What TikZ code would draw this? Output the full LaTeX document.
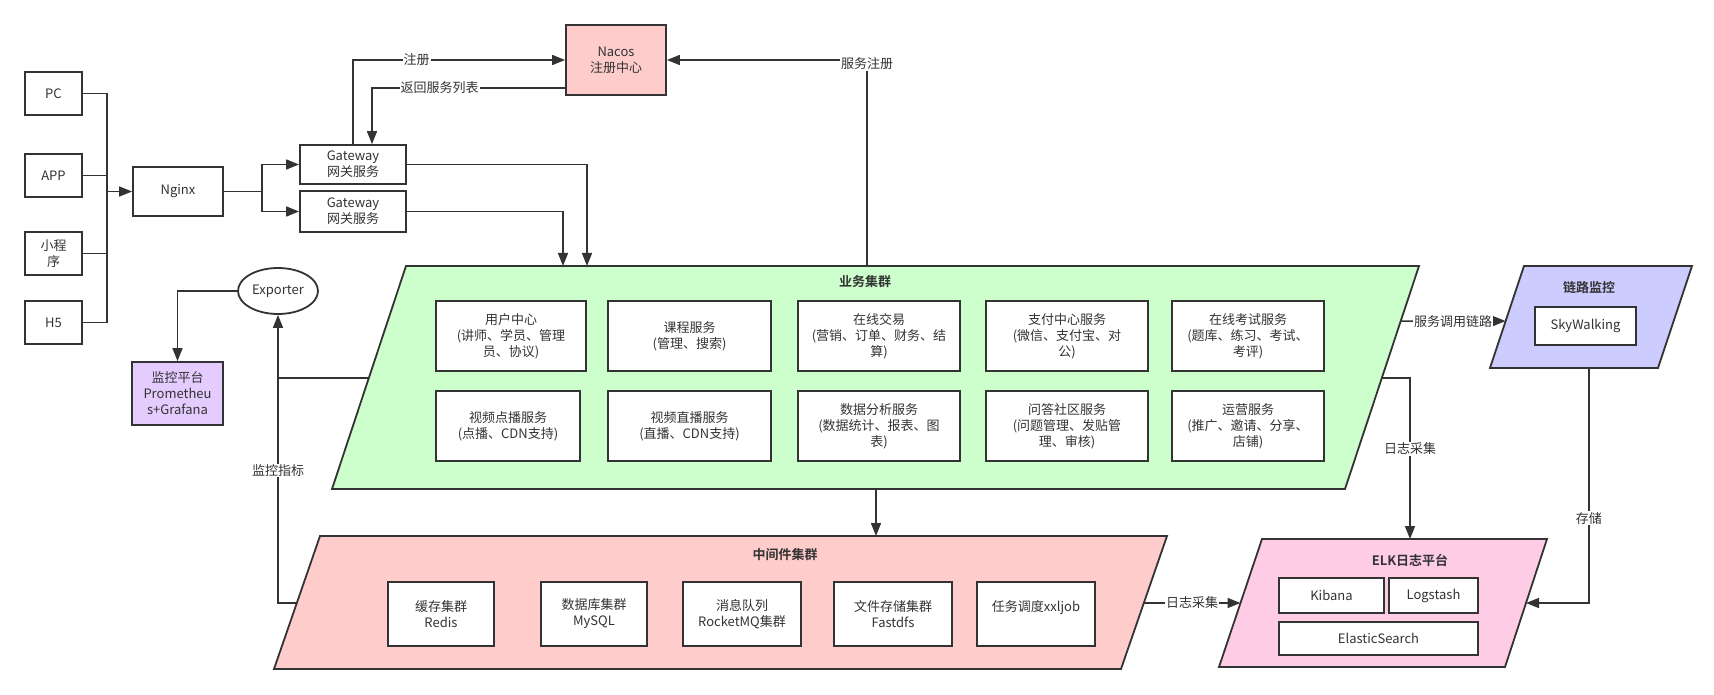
\documentclass[tikz,border=0pt]{standalone}
\usepackage{fontspec}
\setmainfont{Noto Sans CJK SC}[BoldFont={Noto Sans CJK SC Bold}]
\usetikzlibrary{arrows.meta,shapes.geometric,calc}
\definecolor{ln}{HTML}{333333}
\definecolor{bizgreen}{HTML}{CCFFCC}
\definecolor{midpink}{HTML}{FFCCCC}
\definecolor{monpurple}{HTML}{E5CCFF}
\definecolor{trblue}{HTML}{CCCCFF}
\definecolor{elkpink}{HTML}{FFCCE6}
\begin{document}
\begin{tikzpicture}[x=1pt,y=-1pt,
  font=\fontsize{13}{16}\selectfont, text=ln,
  box/.style={draw=ln, line width=1.8pt, fill=white, inner sep=0pt, align=center},
  shapeline/.style={draw=ln, line width=1.8pt},
  conn/.style={draw=ln, line width=1.6pt},
  arr/.style={conn, -{Triangle[length=13pt,width=10pt]}},
  lbl/.style={fill=white, inner sep=1pt},
  ttl/.style={font=\fontsize{13}{16}\selectfont\bfseries}]
\useasboundingbox (0,0) rectangle (1714,695);

% ---------- clusters (parallelograms) ----------
\coordinate (bTL) at (406,266); \coordinate (bTR) at (1419,266);
\coordinate (bBR) at (1345,489); \coordinate (bBL) at (332,489);
\draw[shapeline, fill=bizgreen] (bTL)--(bTR)--(bBR)--(bBL)--cycle;
\node[ttl] (bizt) at (865,282) {业务集群};

\coordinate (mTL) at (320,536); \coordinate (mTR) at (1167,536);
\coordinate (mBR) at (1121,669); \coordinate (mBL) at (274,669);
\draw[shapeline, fill=midpink] (mTL)--(mTR)--(mBR)--(mBL)--cycle;
\node[ttl] (midt) at (785,555) {中间件集群};

\coordinate (lTL) at (1524,266); \coordinate (lTR) at (1692,266);
\coordinate (lBR) at (1658,368); \coordinate (lBL) at (1490,368);
\draw[shapeline, fill=trblue] (lTL)--(lTR)--(lBR)--(lBL)--cycle;
\node[ttl] (lkt) at (1589,288) {链路监控};

\coordinate (eTL) at (1262,539); \coordinate (eTR) at (1547,539);
\coordinate (eBR) at (1505,667); \coordinate (eBL) at (1219,667);
\draw[shapeline, fill=elkpink] (eTL)--(eTR)--(eBR)--(eBL)--cycle;
\node[ttl] (elkt) at (1410,560) {ELK日志平台};

% ---------- simple nodes ----------
\node[box, minimum width=57pt, minimum height=43pt] (pc) at (53.5,93.5) {PC};
\node[box, minimum width=57pt, minimum height=43pt] (app) at (53.5,175.5) {APP};
\node[box, minimum width=57pt, minimum height=43pt] (mini) at (53.5,253.5) {小程\\序};
\node[box, minimum width=57pt, minimum height=43pt] (h5) at (53.5,322.5) {H5};
\node[box, minimum width=90pt, minimum height=49pt] (nginx) at (178,191.5) {Nginx};
\node[box, minimum width=106pt, minimum height=39pt] (gw1) at (353,164.5) {Gateway\\网关服务};
\node[box, minimum width=106pt, minimum height=41pt] (gw2) at (353,211.5) {Gateway\\网关服务};
\node[box, fill=midpink, minimum width=100pt, minimum height=70pt] (nacos) at (616,60) {Nacos\\注册中心};
\node[box, ellipse, minimum width=80pt, minimum height=46pt] (exp) at (278,291) {Exporter};
\node[box, fill=monpurple, minimum width=91pt, minimum height=63pt] (mon) at (177.5,393.5) {监控平台\\Prometheu\\s+Grafana};

% business services
\node[box, minimum width=150pt, minimum height=70pt] (s1) at (511,336) {用户中心\\(讲师、学员、管理\\员、协议)};
\node[box, minimum width=163pt, minimum height=70pt] (s2) at (689.5,336) {课程服务\\(管理、搜索)};
\node[box, minimum width=162pt, minimum height=70pt] (s3) at (879,336) {在线交易\\(营销、订单、财务、结\\算)};
\node[box, minimum width=162pt, minimum height=70pt] (s4) at (1067,336) {支付中心服务\\(微信、支付宝、对\\公)};
\node[box, minimum width=152pt, minimum height=70pt] (s5) at (1248,336) {在线考试服务\\(题库、练习、考试、\\考评)};
\node[box, minimum width=144pt, minimum height=70pt] (s6) at (508,426) {视频点播服务\\(点播、CDN支持)};
\node[box, minimum width=163pt, minimum height=70pt] (s7) at (689.5,426) {视频直播服务\\(直播、CDN支持)};
\node[box, minimum width=162pt, minimum height=70pt] (s8) at (879,426) {数据分析服务\\(数据统计、报表、图\\表)};
\node[box, minimum width=162pt, minimum height=70pt] (s9) at (1067,426) {问答社区服务\\(问题管理、发贴管\\理、审核)};
\node[box, minimum width=152pt, minimum height=70pt] (s10) at (1248,426) {运营服务\\(推广、邀请、分享、\\店铺)};

% middleware
\node[box, minimum width=106pt, minimum height=64pt] (m1) at (441,614) {缓存集群\\Redis};
\node[box, minimum width=106pt, minimum height=64pt] (m2) at (594,614) {数据库集群\\MySQL};
\node[box, minimum width=118pt, minimum height=64pt] (m3) at (742,614) {消息队列\\RocketMQ集群};
\node[box, minimum width=118pt, minimum height=64pt] (m4) at (893,614) {文件存储集群\\Fastdfs};
\node[box, minimum width=118pt, minimum height=64pt] (m5) at (1036,614) {任务调度xxljob\\\mbox{}};

% tracing / ELK
\node[box, minimum width=101pt, minimum height=38pt] (sky) at (1585.5,326) {SkyWalking};
\node[box, minimum width=105pt, minimum height=35pt] (kib) at (1331.5,595.5) {Kibana};
\node[box, minimum width=89pt, minimum height=35pt] (logs) at (1433.5,595.5) {Logstash};
\node[box, minimum width=199pt, minimum height=33pt] (es) at (1378.5,638.5) {ElasticSearch};

% ---------- connectors ----------
\coordinate (bus) at ($(nginx.west)+(-25,0)$);
\draw[conn] (pc.east) -| (bus);
\draw[conn] (app.east) -| (bus);
\draw[conn] (mini.east) -| (bus);
\draw[conn] (h5.east) -| (bus);
\draw[arr] (bus) -- (nginx.west);

\coordinate (split) at ($(nginx.east)+(38,0)$);
\draw[conn] (nginx.east) -- (split);
\draw[arr] (split) |- (gw1.west);
\draw[arr] (split) |- (gw2.west);

\draw[arr] (gw1.north) |- (nacos.west) node[lbl, pos=0.65] {注册};
\coordinate (nacRet) at ($(nacos.south west)+(0,-8)$);
\coordinate (gwIn) at ($(gw1.north)+(19,0)$);
\draw[arr] (nacRet) -| (gwIn) node[lbl, pos=0.325] {返回服务列表};

\coordinate (bReg) at (867,266);
\draw[arr] (bReg) |- (nacos.east) node[lbl, pos=0.5, yshift=-4pt] {服务注册};

\coordinate (bIn1) at (587,266);
\coordinate (bIn2) at (563,266);
\draw[arr] (gw1.east) -| (bIn1);
\draw[arr] (gw2.east) -| (bIn2);

\coordinate (bOut) at (876,489);
\coordinate (mIn) at (876,536);
\draw[arr] (bOut) -- (mIn);

\coordinate (bL) at ($(bBL)!0.498!(bTL)$);
\coordinate (mL) at ($(mBL)!0.496!(mTL)$);
\draw[conn] (bL) -- (bL -| exp.south);
\draw[arr] (mL) -| (exp.south) node[lbl, pos=0.73] {监控指标};
\draw[arr] (exp.west) -| (mon.north);

\coordinate (bR1) at ($(bBR)!0.753!(bTR)$);
\coordinate (lL) at ($(lBL)!0.46!(lTL)$);
\draw[arr] (bR1) -- (lL) node[lbl, midway] {服务调用链路};

\coordinate (bR2) at ($(bBR)!0.498!(bTR)$);
\coordinate (eIn) at (1410,539);
\draw[arr] (bR2) -| (eIn) node[lbl, pos=0.72] {日志采集};

\coordinate (lB) at ($(lBL)!0.589!(lBR)$);
\coordinate (eR) at ($(eBR)!0.5!(eTR)$);
\draw[arr] (lB) |- (eR) node[lbl, pos=0.32] {存储};

\coordinate (mR) at ($(mBR)!0.496!(mTR)$);
\coordinate (eL) at ($(eBL)!0.5!(eTL)$);
\draw[arr] (mR) -- (eL) node[lbl, midway] {日志采集};
\end{tikzpicture}
\end{document}
